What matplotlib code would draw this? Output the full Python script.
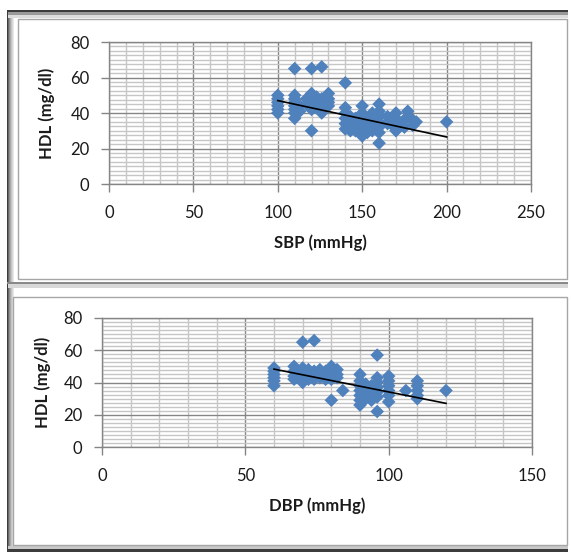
import numpy as np
import matplotlib
matplotlib.use("Agg")
import matplotlib.pyplot as plt
from matplotlib.patches import Rectangle

plt.rcParams['font.family'] = ['Lato', 'DejaVu Sans']

# HDL against systolic pressure
sbp = ([100] * 6 + [110] * 8 + [113] * 2 + [117] * 2 + [120] * 7 + [123] * 3
       + [126] * 5 + [130] * 4 + [140] * 6 + [143] * 4 + [146] * 3 + [150] * 6
       + [153] * 3 + [156] * 4 + [160] * 7 + [165] * 2 + [168] * 2 + [170] * 4
       + [175] * 2 + [177] * 2 + [180] * 2 + [182] + [200])
hdl_sbp = [50, 48, 46, 44, 42, 40,
           65, 50, 48, 46, 44, 42, 40, 37,
           44, 41,
           48, 45,
           65, 51, 48, 46, 44, 42, 30,
           49, 46, 43,
           66, 48, 45, 42, 40,
           51, 48, 46, 44,
           57, 43, 40, 37, 34, 31,
           38, 35, 32, 30,
           37, 33, 30,
           44, 40, 37, 34, 31, 27,
           36, 32, 29,
           40, 37, 34, 30,
           45, 41, 38, 35, 32, 29, 23,
           38, 34,
           37, 33,
           40, 37, 34, 30,
           36, 32,
           41, 38,
           36, 33,
           35,
           35]

# HDL against diastolic pressure
dbp = ([60] * 6 + [67] * 4 + [70] * 6 + [72] * 3 + [74] * 4 + [76] * 3
       + [78] * 3 + [80] * 5 + [82] * 3 + [84] + [90] * 7 + [92] * 4 + [94] * 4
       + [96] * 7 + [100] * 6 + [106] + [110] * 5 + [120])
hdl_dbp = [49, 47, 45, 43, 41, 38,
           50, 47, 44, 42,
           65, 49, 46, 44, 42, 40,
           48, 45, 42,
           66, 47, 44, 42,
           48, 45, 43,
           47, 44, 42,
           50, 47, 45, 42, 29,
           48, 45, 43,
           35,
           45, 41, 38, 35, 32, 29, 26,
           39, 36, 33, 30,
           38, 35, 32, 29,
           57, 43, 40, 37, 34, 31, 22,
           44, 41, 38, 35, 32, 28,
           35,
           41, 38, 35, 32, 30,
           35]

# linear trend lines (intercept, slope)
trend_sbp = (67.5, -0.205)
trend_dbp = (69.55, -0.354)

y_ticks = [0, 20, 40, 60, 80]
y_labels = ['0', '20', '40', '60', '80']
sbp_ticks = [0, 50, 100, 150, 200, 250]
dbp_ticks = [0, 50, 100, 150]

W, H = 571, 553
BLUE = '#4f81bd'
MAJ = '#858585'
MIN = '#c6c6c6'

fig = plt.figure(figsize=(W / 100, H / 100), dpi=100)


def rect(x0, y0, x1, y1, **kw):
    fig.add_artist(Rectangle((x0 / W, 1 - y1 / H), (x1 - x0) / W, (y1 - y0) / H,
                             transform=fig.transFigure, **kw))


# frame around both charts
for i, c in enumerate(['#3c3c3c', '#6a6a6a', '#8f8f8f', '#aaaaaa', '#c4c4c4', '#d8d8d8', '#e8e8e8']):
    rect(7 + i, 10, 8 + i, 551, facecolor=c, edgecolor='none')
rect(7, 10, 568, 12, facecolor='#3c3c3c', edgecolor='none')
rect(8, 12, 568, 15, facecolor='#9a9a9a', edgecolor='none')
rect(8, 15, 568, 18, facecolor='#dcdcdc', edgecolor='none')
rect(7, 549, 568, 552, facecolor='#3c3c3c', edgecolor='none')
rect(8, 546, 568, 549, facecolor='#c8c8c8', edgecolor='none')
rect(7, 282, 568, 284, facecolor='#8a8a8a', edgecolor='none')
rect(8, 284, 568, 288, facecolor='#d8d8d8', edgecolor='none')
rect(18, 19, 567, 279, facecolor='none', edgecolor='#a6a6a6', lw=1)
rect(13, 297, 567, 545, facecolor='none', edgecolor='#a6a6a6', lw=1)


def panel(pos, x, y, trend, xmax, xticks, xlabel, ylab_x):
    ax = fig.add_axes(pos)
    ax.set_xlim(0, xmax)
    ax.set_ylim(0, 80)
    ax.set_xticks(xticks)
    ax.set_xticks(np.arange(0, xmax + 1, 10), minor=True)
    ax.set_yticks(y_ticks, y_labels)
    ax.set_yticks(np.arange(0, 80.1, 2.5), minor=True)
    ax.grid(which='minor', color=MIN, lw=1)
    ax.grid(which='major', color=MAJ, lw=1)
    ax.set_axisbelow(True)
    ax.tick_params(which='major', direction='out', length=6, width=1, color=MAJ,
                   labelsize=12, labelcolor='#1a1a1a')
    ax.tick_params(axis='x', pad=9)
    ax.tick_params(axis='y', pad=8)
    ax.tick_params(which='minor', length=0)
    for s in ax.spines.values():
        s.set_color(MAJ)
        s.set_linewidth(1)
    ax.scatter(x, y, marker='D', s=48, color=BLUE, edgecolors='none', zorder=3)
    xs = np.array([min(x), max(x)])
    ax.plot(xs, trend[0] + trend[1] * xs, color='black', lw=1.2, zorder=4)
    ax.set_xlabel(xlabel, fontsize=12, fontweight='bold', color='#1a1a1a', labelpad=10)
    ax.set_ylabel('HDL (mg/dl)', fontsize=12, fontweight='bold', color='#1a1a1a')
    ax.yaxis.set_label_coords(ylab_x, 0.5)
    return ax


panel([109 / W, 1 - 184 / H, 422 / W, 142 / H], sbp, hdl_sbp, trend_sbp, 250,
      sbp_ticks, 'SBP (mmHg)', -0.128)
panel([102 / W, 1 - 447 / H, 430 / W, 129 / H], dbp, hdl_dbp, trend_dbp, 150,
      dbp_ticks, 'DBP (mmHg)', -0.118)

fig.savefig('out.png', dpi=100)
